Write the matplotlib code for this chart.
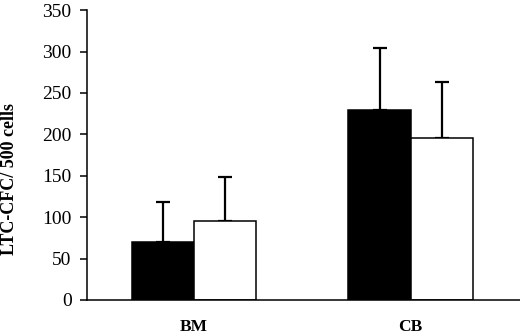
import matplotlib
matplotlib.use("Agg")
import matplotlib.pyplot as plt
import numpy as np

categories = ["BM", "CB"]
black_vals = [70, 229]
white_vals = [95, 195]
black_err = [48, 75]
white_err = [53, 68]
yticks = [0, 50, 100, 150, 200, 250, 300, 350]
ylabel = "LTC-CFC/ 500 cells"

plt.rcParams['font.family'] = ['Liberation Serif', 'DejaVu Serif']

fig = plt.figure(figsize=(5.2, 3.34), dpi=100)
ax = fig.add_axes([0.167, 0.1018, 0.833, 0.868])

x = np.arange(len(categories))
w = 0.287
ax.bar(x - w / 2, black_vals, width=w, color="black", edgecolor="black", linewidth=1.1, zorder=2)
ax.bar(x + w / 2, white_vals, width=w, color="white", edgecolor="black", linewidth=1.1, zorder=2)
ax.errorbar(x - w / 2, black_vals, yerr=[np.zeros(len(black_err)), black_err], fmt="none",
            ecolor="black", elinewidth=1.6, capsize=4.7, capthick=1.6, zorder=1)
ax.errorbar(x + w / 2, white_vals, yerr=[np.zeros(len(white_err)), white_err], fmt="none",
            ecolor="black", elinewidth=1.6, capsize=4.7, capthick=1.6, zorder=1)

ax.set_xlim(-0.495, 1.505)
ax.set_ylim(0, 350)
ax.set_yticks(yticks)
ax.set_yticklabels([str(v) for v in yticks], fontsize=14)
ax.set_xticks(x)
ax.set_xticklabels(categories, fontsize=12.5, fontweight="bold")
ax.tick_params(axis="x", length=0, pad=14)
ax.tick_params(axis="y", direction="out", length=5, width=1.1, pad=6)
ax.set_ylabel(ylabel, fontsize=13, fontweight="bold")
ax.yaxis.set_label_coords(-0.159, 0.417)
for s in ["top", "right"]:
    ax.spines[s].set_visible(False)
ax.spines["left"].set_linewidth(1.1)
ax.spines["bottom"].set_linewidth(1.1)

fig.savefig("out.png", dpi=100)
